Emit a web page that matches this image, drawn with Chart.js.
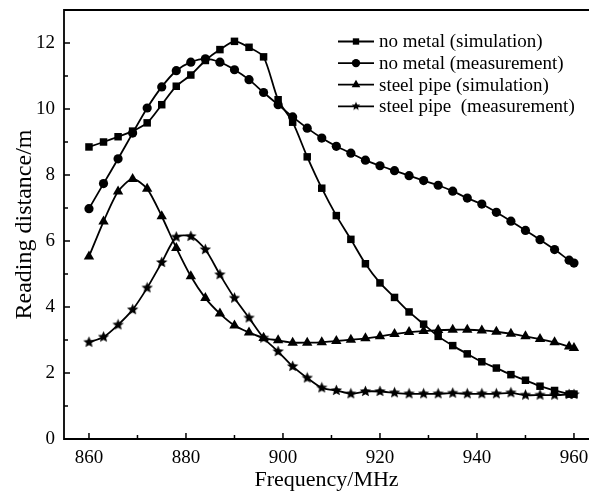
<!DOCTYPE html>
<html>
<head>
<meta charset="utf-8">
<script src="https://cdn.jsdelivr.net/npm/chart.js@4/dist/chart.umd.min.js"></script>
<style>
  html, body { margin: 0; padding: 0; background: #fff; }
  #box { width: 589px; height: 493px; }
</style>
</head>
<body>
<div id="box"><canvas id="c" width="589" height="493"></canvas></div>
<script>
// frequency points (MHz)
var freq = [860,863,866,869,872,875,878,881,884,887,890,893,896,899,902,905,908,911,914,917,920,923,926,929,932,935,938,941,944,947,950,953,956,959,960];

// reading distance (m)
var noMetalSim = [8.85,9.0,9.16,9.33,9.58,10.13,10.69,11.03,11.47,11.8,12.05,11.87,11.58,10.28,9.6,8.55,7.6,6.77,6.05,5.31,4.73,4.29,3.85,3.48,3.11,2.83,2.58,2.34,2.15,1.95,1.78,1.6,1.47,1.36,1.36];
var noMetalMeas = [6.98,7.74,8.49,9.27,10.03,10.67,11.16,11.42,11.52,11.42,11.19,10.89,10.5,10.13,9.76,9.42,9.12,8.87,8.66,8.45,8.28,8.13,7.98,7.83,7.69,7.51,7.3,7.12,6.87,6.6,6.32,6.04,5.74,5.42,5.33];
var steelSim = [5.53,6.59,7.5,7.88,7.58,6.75,5.79,4.93,4.27,3.8,3.44,3.23,3.06,2.99,2.92,2.92,2.93,2.97,3.01,3.05,3.11,3.18,3.24,3.27,3.3,3.31,3.31,3.29,3.25,3.19,3.11,3.03,2.93,2.8,2.76];
var steelMeas = [2.93,3.09,3.46,3.92,4.58,5.35,6.12,6.14,5.74,4.98,4.27,3.67,3.06,2.65,2.2,1.85,1.55,1.47,1.37,1.44,1.44,1.4,1.37,1.37,1.37,1.39,1.37,1.37,1.37,1.4,1.33,1.33,1.33,1.35,1.35];

var seriesNames = ['no metal (simulation)','no metal (measurement)','steel pipe (simulation)','steel pipe  (measurement)'];

var xTicks = [860,870,880,890,900,910,920,930,940,950,960];
var yTicks = [0,1,2,3,4,5,6,7,8,9,10,11,12];

var FONT = '"Liberation Serif", "Times New Roman", serif';

// five point star marker
function makeStar(size)
{
  var cv = document.createElement('canvas');
  cv.width = size; cv.height = size;
  var g = cv.getContext('2d');
  var r1 = size / 2 - 0.5, r2 = r1 * 0.45, c = size / 2;
  g.beginPath();
  for (var i = 0; i < 10; i++) {
    var r = (i % 2 == 0) ? r1 : r2;
    var a = -Math.PI / 2 + i * Math.PI / 5;
    g.lineTo(c + r * Math.cos(a), c + r * Math.sin(a));
  }
  g.closePath();
  g.fillStyle = '#000';
  g.fill();
  return cv;
}
var star = makeStar(13);
var starSmall = makeStar(10);

function pts(ys)
{
  var out = [];
  for (var i = 0; i < freq.length; i++) out.push({x: freq[i], y: ys[i]});
  return out;
}

function ds(label, ys, style, r)
{
  return {
    label: label,
    data: pts(ys),
    borderColor: '#000',
    backgroundColor: '#000',
    borderWidth: 1.8,
    pointStyle: style,
    pointRadius: r,
    pointBorderWidth: 0,
    pointBackgroundColor: '#000',
    tension: 0.25,
    clip: 10
  };
}

// inward ticks, frame (right side is cut off in the original) and legend
var framePlugin = {
  id: 'frame',
  afterDraw: function (chart)
  {
    var ctx = chart.ctx, a = chart.chartArea;
    var xs = chart.scales.x, ys = chart.scales.y;
    ctx.save();
    ctx.strokeStyle = '#000';
    ctx.lineWidth = 1.5;
    ctx.beginPath();
    xTicks.forEach(function (v) {
      var px = xs.getPixelForValue(v);
      var len = (v % 20 == 0) ? 6 : 4;
      ctx.moveTo(px, a.bottom); ctx.lineTo(px, a.bottom - len);
    });
    yTicks.forEach(function (v) {
      var py = ys.getPixelForValue(v);
      var len = (v % 2 == 0) ? 6 : 4;
      ctx.moveTo(a.left, py); ctx.lineTo(a.left + len, py);
    });
    ctx.stroke();
    ctx.lineWidth = 1.8;
    ctx.beginPath();
    ctx.moveTo(a.right + 2, a.top);
    ctx.lineTo(a.left, a.top);
    ctx.lineTo(a.left, a.bottom);
    ctx.lineTo(a.right + 2, a.bottom);
    ctx.stroke();

    // legend
    var styles = ['rect','circle','triangle',starSmall];
    var radii = [4.5,4.2,5,5];
    ctx.font = '19px ' + FONT;
    ctx.textBaseline = 'middle';
    ctx.textAlign = 'left';
    for (var i = 0; i < seriesNames.length; i++) {
      var y = 41.5 + i * 21.6;
      ctx.lineWidth = 1.8;
      ctx.beginPath();
      ctx.moveTo(338, y); ctx.lineTo(374, y);
      ctx.stroke();
      ctx.fillStyle = '#000';
      Chart.helpers.drawPoint(ctx, {pointStyle: styles[i], radius: radii[i], rotation: 0, borderWidth: 0}, 356, y);
      ctx.fillText(seriesNames[i], 379, y + 1);
    }
    ctx.restore();
  }
};

function noPad(s)
{
  s.paddingLeft = 0; s.paddingRight = 0; s.paddingTop = 0; s.paddingBottom = 0;
}

new Chart(document.getElementById('c'), {
  type: 'line',
  data: {
    datasets: [
      ds(seriesNames[0], noMetalSim, 'rect', 5.3),
      ds(seriesNames[1], noMetalMeas, 'circle', 4.6),
      ds(seriesNames[2], steelSim, 'triangle', 6),
      ds(seriesNames[3], steelMeas, star, 6)
    ]
  },
  options: {
    responsive: false,
    animation: false,
    layout: { autoPadding: false, padding: { left: 10, right: 0, top: 10, bottom: 0 } },
    plugins: { legend: { display: false }, tooltip: { enabled: false } },
    scales: {
      x: {
        type: 'linear',
        min: 854.85,
        max: 963.1,
        grid: { display: false, drawTicks: false },
        border: { display: false },
        afterBuildTicks: function (s) { s.ticks = xTicks.map(function (v) { return {value: v}; }); },
        afterFit: function (s) { s.height = 54; noPad(s); },
        ticks: {
          padding: 8,
          color: '#000',
          font: { family: FONT, size: 19 },
          maxRotation: 0,
          autoSkip: false,
          callback: function (v) { return v % 20 == 0 ? String(v) : ''; }
        },
        title: {
          display: true,
          text: 'Frequency/MHz',
          color: '#000',
          font: { family: FONT, size: 22 },
          padding: 0
        }
      },
      y: {
        min: 0,
        max: 13,
        grid: { display: false, drawTicks: false },
        border: { display: false },
        afterBuildTicks: function (s) { s.ticks = yTicks.map(function (v) { return {value: v}; }); },
        afterFit: function (s) { s.width = 54; noPad(s); },
        ticks: {
          padding: 9,
          color: '#000',
          font: { family: FONT, size: 19 },
          autoSkip: false,
          callback: function (v) { return v % 2 == 0 ? String(v) : ''; }
        },
        title: {
          display: true,
          text: 'Reading distance/m',
          color: '#000',
          font: { family: FONT, size: 24 },
          padding: 0
        }
      }
    }
  },
  plugins: [framePlugin]
});
</script>
</body>
</html>
